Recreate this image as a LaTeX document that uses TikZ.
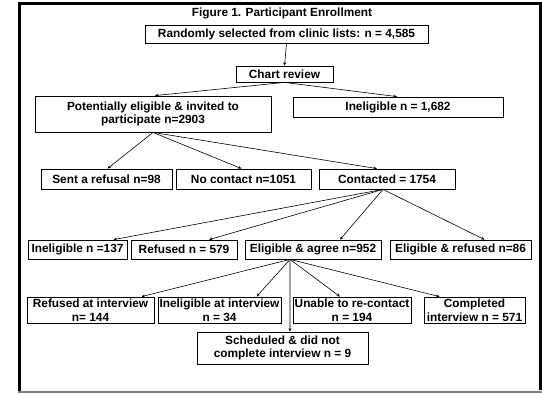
\documentclass[tikz,border=0pt]{standalone}
\usepackage{fontspec}
\setmainfont{Liberation Sans}
\usetikzlibrary{arrows.meta}
\tikzset{
  box/.style={draw, line width=0.8bp, inner sep=0pt, align=center,
    font=\bfseries\fontsize{11.9}{13.8}\selectfont},
  arr/.style={line width=0.6bp, -{Stealth[length=3.5bp,width=3bp]}},
  ttl/.style={inner sep=0pt, font=\bfseries\fontsize{11.9}{13.8}\selectfont}
}
\begin{document}
\begin{tikzpicture}[x=1bp,y=-1bp]
\useasboundingbox (0,0) rectangle (542,393);
% frame
\draw[line width=3bp] (19.7,393) -- (19.7,3.5) -- (540.5,3.5) -- (540.5,390);
\draw[gray, line width=1.5bp] (18,392.2) -- (542,392.2);
% title
\node[ttl] (title) at (282,13) {Figure 1. Participant Enrollment};
% row 1
\node[box, minimum width=283bp, minimum height=18bp] (rand) at (286.5,34) {Randomly selected from clinic lists: n = 4,585};
\node[box, minimum width=97bp, minimum height=16bp] (chart) at (284.5,74) {Chart review};
% row 2
\node[box, minimum width=236bp, minimum height=36bp] (pot) at (153,114) {Potentially eligible \& invited to\\participate n=2903};
\node[box, minimum width=210bp, minimum height=20bp] (inel1) at (398,107) {Ineligible n = 1,682};
% row 3
\node[box, minimum width=131bp, minimum height=20bp] (sent) at (106.5,179) {Sent a refusal n=98};
\node[box, minimum width=135bp, minimum height=20bp] (nocon) at (243.5,179) {No contact n=1051};
\node[box, minimum width=136bp, minimum height=20bp] (cont) at (387,179) {Contacted = 1754};
% row 4
\node[box, minimum width=99bp, minimum height=19bp] (inel2) at (77.5,249.5) {Ineligible n =137};
\node[box, minimum width=106bp, minimum height=19bp] (ref) at (184,249.5) {Refused n = 579};
\node[box, minimum width=136bp, minimum height=19bp] (eagree) at (313,249.5) {Eligible \& agree n=952};
\node[box, minimum width=141bp, minimum height=19bp] (eref) at (460.5,249.5) {Eligible \& refused n=86};
% row 5
\node[box, minimum width=127bp, minimum height=26bp] (refint) at (90.5,310) {Refused at interview\\n= 144};
\node[box, minimum width=123bp, minimum height=26bp] (inelint) at (219.5,310) {Ineligible at interview\\n = 34};
\node[box, minimum width=118bp, minimum height=26bp] (unable) at (352,310) {Unable to re-contact\\n = 194};
\node[box, minimum width=101bp, minimum height=26bp] (compl) at (474.5,310) {Completed\\interview n = 571};
\node[box, minimum width=171bp, minimum height=32bp] (sched) at (282.5,348) {Scheduled \& did not\\complete interview n = 9};
% connectors
\draw[arr] (rand.south) -- (chart.north);
\draw[arr] (chart.south) -- ([xshift=2bp]pot.north);
\draw[arr] (chart.south) -- ([xshift=-1bp]inel1.north);
\draw[arr] (pot.south) -- ([xshift=1bp]sent.north);
\draw[arr] (pot.south) -- ([xshift=-2bp]nocon.north);
\draw[arr] (pot.south) -- ([xshift=-10bp]cont.north);
\draw[arr] ([xshift=-4bp]cont.south) -- ([xshift=36bp]inel2.north);
\draw[arr] ([xshift=-4bp]cont.south) -- ([xshift=25bp]ref.north);
\draw[arr] ([xshift=-4bp]cont.south) -- ([xshift=27bp]eagree.north);
\draw[arr] ([xshift=-4bp]cont.south) -- ([xshift=24bp]eref.north);
\draw[arr] ([xshift=-23bp]eagree.south) -- ([xshift=51bp]refint.north);
\draw[arr] ([xshift=-23bp]eagree.south) -- ([xshift=37bp]inelint.north);
\draw[arr] ([xshift=-23bp]eagree.south) -- ([xshift=7.5bp]sched.north);
\draw[arr] ([xshift=-23bp]eagree.south) -- ([xshift=-12bp]unable.north);
\draw[arr] ([xshift=-23bp]eagree.south) -- ([xshift=-35bp]compl.north);
\end{tikzpicture}
\end{document}
